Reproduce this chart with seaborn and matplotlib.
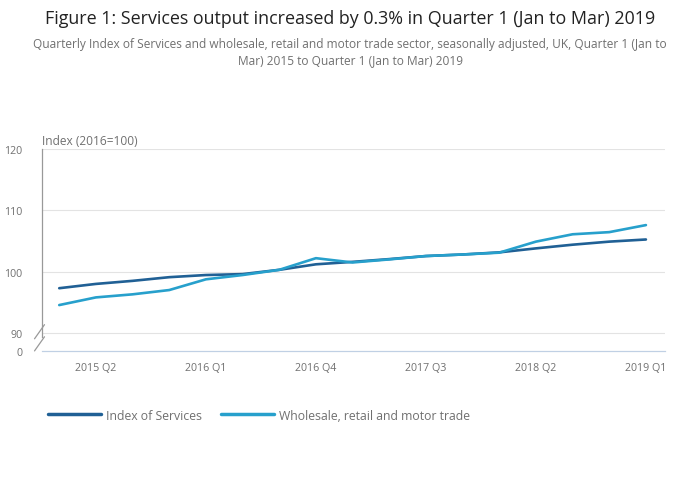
import matplotlib
matplotlib.use("Agg")
import matplotlib.pyplot as plt
from matplotlib.lines import Line2D
import seaborn as sns
import pandas as pd

quarters = ["2015 Q1", "2015 Q2", "2015 Q3", "2015 Q4",
            "2016 Q1", "2016 Q2", "2016 Q3", "2016 Q4",
            "2017 Q1", "2017 Q2", "2017 Q3", "2017 Q4",
            "2018 Q1", "2018 Q2", "2018 Q3", "2018 Q4",
            "2019 Q1"]
services = [97.3, 98.0, 98.5, 99.1, 99.45, 99.6, 100.3, 101.2,
            101.6, 102.05, 102.55, 102.8, 103.15, 103.8, 104.4, 104.9, 105.25]
wholesale = [94.55, 95.8, 96.3, 97.0, 98.75, 99.45, 100.3, 102.2,
             101.5, 102.0, 102.55, 102.8, 103.1, 104.9, 106.1, 106.45, 107.6]
series_names = ["Index of Services", "Wholesale, retail and motor trade"]
colours = ["#206095", "#27a0cc"]
xtick_labels = ["2015 Q2", "2016 Q1", "2016 Q4", "2017 Q3", "2018 Q2", "2019 Q1"]
ytick_values = [90, 100, 110, 120]

df = pd.concat([
    pd.DataFrame({"q": range(len(quarters)), "value": services, "series": series_names[0]}),
    pd.DataFrame({"q": range(len(quarters)), "value": wholesale, "series": series_names[1]}),
])

sns.set_style("white")
plt.rcParams["font.family"] = ["Open Sans", "DejaVu Sans"]
grey = "#707070"

fig = plt.figure(figsize=(7, 5.02), dpi=100)
ax = fig.add_axes([0.06, 0.299, 0.89, 0.402])

sns.lineplot(data=df, x="q", y="value", hue="series", palette=colours,
             linewidth=1.9, legend=False, ax=ax)

zero_pos = 87.07
ax.set_ylim(zero_pos, 120)
ax.set_xlim(-0.47, 16.52)
ax.set_yticks([zero_pos] + ytick_values)
ax.set_yticklabels(["0"] + [str(v) for v in ytick_values], color=grey, fontsize=7.7)
for v in ytick_values:
    ax.axhline(v, color="#e3e3e3", linewidth=0.8, zorder=0)

xt = [quarters.index(l) for l in xtick_labels]
ax.set_xticks(xt)
ax.set_xticklabels(xtick_labels, color=grey, fontsize=7.7)
ax.tick_params(axis="x", length=5, width=0.8, color="#c0d0e4", pad=3)
ax.tick_params(axis="y", length=0, pad=14)
ax.set_xlabel("")
ax.set_ylabel("")

for s in ["top", "right"]:
    ax.spines[s].set_visible(False)
ax.spines["bottom"].set_color("#c0d0e4")
ax.spines["bottom"].set_linewidth(0.9)
ax.spines["left"].set_color("#999999")
ax.spines["left"].set_linewidth(0.9)
ax.spines["left"].set_bounds(89.4, 120)

# axis break marks
for y0 in [0.035, 0.095]:
    ax.plot([-0.012, 0.004], [y0 - 0.035, y0 + 0.035], transform=ax.transAxes,
            color="#999999", linewidth=0.9, clip_on=False)

ax.text(0.0, 1.01, "Index (2016=100)", transform=ax.transAxes, ha="left", va="bottom",
        color=grey, fontsize=8.6)

fig.text(0.5, 0.963, "Figure 1: Services output increased by 0.3% in Quarter 1 (Jan to Mar) 2019",
         ha="center", va="center", fontsize=12.9, color="#222222")
fig.text(0.5, 0.896, "Quarterly Index of Services and wholesale, retail and motor trade sector, "
         "seasonally adjusted, UK, Quarter 1 (Jan to\nMar) 2015 to Quarter 1 (Jan to Mar) 2019",
         ha="center", va="center", fontsize=8.6, color=grey, linespacing=1.3)

handles = [Line2D([0], [0], color=c, linewidth=2.5) for c in colours]
fig.legend(handles, series_names, loc="center left", bbox_to_anchor=(0.069, 0.171),
           ncol=2, frameon=False, fontsize=8.8, handlelength=4.3, handletextpad=0.4,
           columnspacing=1.6, labelcolor=grey, borderaxespad=0, borderpad=0)

fig.savefig("out.png", dpi=100)
